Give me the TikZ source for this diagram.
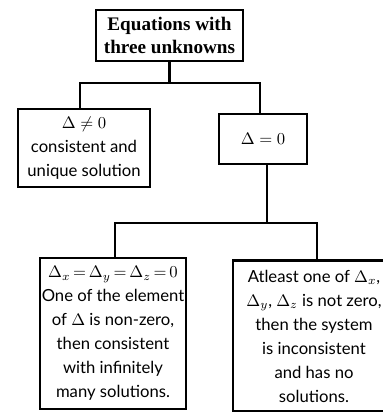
\documentclass[tikz,border=0pt]{standalone}
\usepackage{amsmath}
\usepackage{fontspec}
\setmainfont{Lato}
\newfontfamily\titlefont{Liberation Serif}
\usetikzlibrary{calc}

\begin{document}
\begin{tikzpicture}[x=0.6pt, y=-0.6pt, line width=1.4pt,
  box/.style={draw, align=center, inner sep=0pt, font=\fontsize{10}{14.4}\selectfont},
  toptitle/.style={box, font=\titlefont\bfseries\fontsize{11.5}{13.5}\selectfont}]
  \path[use as bounding box, clip] (0,0) rectangle (383,412);
  % boxes
  \node[toptitle, minimum width=88pt, minimum height=30.6pt] (top) at (169.5,35.5)
    {Equations with\\three unknowns};
  \node[box, minimum width=79.2pt, minimum height=46.8pt] (nonzero) at (84,148)
    {$\Delta \neq 0$\\consistent and\\unique solution};
  \node[box, minimum width=52.8pt, minimum height=30pt] (zero) at (263,139)
    {$\Delta = 0$};
  \node[box, minimum width=87.6pt, minimum height=90.6pt] (infinite) at (113,333.5)
    {$\Delta_x\,{=}\,\Delta_y\,{=}\,\Delta_z\,{=}\,0$\\One of the element\\of $\Delta$ is non-zero,\\then consistent\\with infinitely\\many solutions.};
  \node[box, minimum width=97.2pt, minimum height=90.6pt] (nosol) at (314,336)
    {Atleast one of $\Delta_x$,\\$\Delta_y$, $\Delta_z$ is not zero,\\then the system\\is inconsistent\\and has no\\solutions.};
  % connectors
  \coordinate (t1) at (80,83);
  \coordinate (t2) at (260,83);
  \coordinate (b1) at (115,223);
  \coordinate (b2) at (317,223);
  \draw (top) -- (top |- t1);
  \draw (nonzero.north -| t1) -- (t1) -- (t2) -- (zero.north -| t2);
  \draw ([xshift=2.4pt]zero.south) -- ([xshift=2.4pt]zero |- b1);
  \draw (infinite.north -| b1) -- (b1) -- (b2) -- (nosol.north -| b2);
\end{tikzpicture}
\end{document}
